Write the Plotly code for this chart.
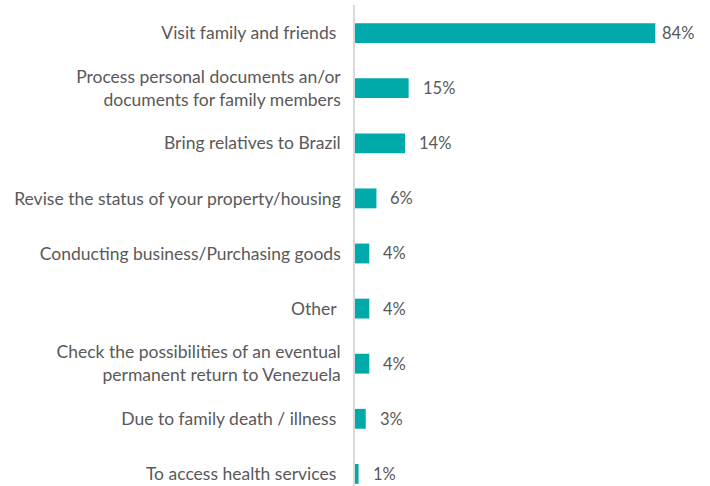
import plotly.graph_objects as go

# ── Data ─────────────────────────────────────────────────────────────
categories = [
    "Visit family and friends\u00a0",
    "Process personal documents an/or<br>documents for family members",
    "Bring relatives to Brazil",
    "Revise the status of your property/housing",
    "Conducting business/Purchasing goods",
    "Other\u00a0",
    "Check the possibilities of an eventual<br>permanent return to Venezuela",
    "Due to family death / illness\u00a0",
    "To access health services\u00a0",
]
values = [84, 15, 14, 6, 4, 4, 4, 3, 1]
value_labels = ["84%", "15%", "14%", "6%", "4%", "4%", "4%", "3%", "1%"]

# ── Palette ──────────────────────────────────────────────────────────
BAR_COLOR = "#00A9AA"
TEXT_COLOR = "#595959"
AXIS_LINE = "#D9D9D9"
FONT = "Lato"

fig = go.Figure()

fig.add_trace(go.Bar(
    x=values,
    y=categories,
    orientation="h",
    marker=dict(color=BAR_COLOR, line=dict(width=0)),
    width=0.36,
    showlegend=False,
    hoverinfo="skip",
))

# value labels just past the end of each bar
for cat, v, lab in zip(categories, values, value_labels):
    fig.add_annotation(
        x=v, y=cat,
        text=lab,
        showarrow=False,
        xanchor="left",
        yanchor="middle",
        xshift=5 if v == max(values) else 12,
        font=dict(size=16.5, color=TEXT_COLOR, family=FONT),
    )

fig.update_layout(
    width=710,
    height=486,
    plot_bgcolor="white",
    paper_bgcolor="white",
    font=dict(family=FONT, color=TEXT_COLOR, size=17.5),
    margin=dict(l=355, r=20, t=5, b=0),
    xaxis=dict(
        range=[0, 93.7],
        visible=False,
        fixedrange=True,
    ),
    yaxis=dict(
        type="category",
        categoryorder="array",
        categoryarray=categories,
        range=[8.22, -0.51],
        showline=True,
        linecolor=AXIS_LINE,
        linewidth=1.5,
        showgrid=False,
        zeroline=False,
        ticks="",
        ticklabelstandoff=9,
        tickfont=dict(size=17.5, color=TEXT_COLOR, family=FONT),
        fixedrange=True,
    ),
)

fig.write_html(
    "out.html",
    config={"displayModeBar": False},
    post_script="document.body.style.margin='0';",
)
